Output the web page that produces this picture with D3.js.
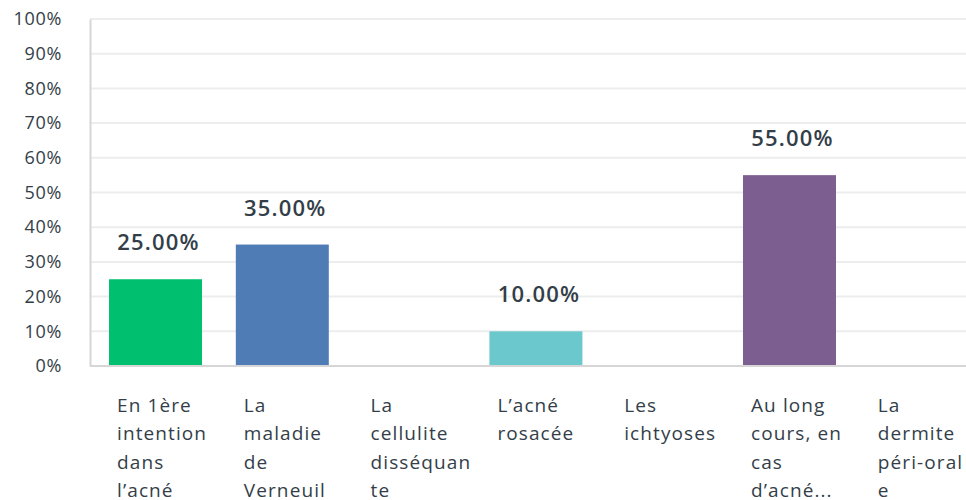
<!DOCTYPE html>
<html>
<head>
<meta charset="utf-8">
<script src="https://cdn.jsdelivr.net/npm/d3@7"></script>
<style>
  body { margin: 0; background: #fff; }
  text { font-family: "Open Sans", sans-serif; fill: #333e48; }
</style>
</head>
<body>
<div class="container"></div>
<script>
const width = 966;
const height = 500;

// category labels, already wrapped the way the picture shows them
const labelLines = [
    ['En 1ère', 'intention', 'dans', 'l’acné'],
    ['La', 'maladie', 'de', 'Verneuil'],
    ['La', 'cellulite', 'disséquan', 'te'],
    ['L’acné', 'rosacée'],
    ['Les', 'ichtyoses'],
    ['Au long', 'cours, en', 'cas', 'd’acné...'],
    ['La', 'dermite', 'péri-oral', 'e']
];
const values = [25, 35, 0, 10, 0, 55, 0];
const colors = ['#00bf6f', '#507cb6', '#f9be00', '#6bc8cd', '#ff8b4f', '#7d5e90', '#d25f90'];
const yTicks = [0, 10, 20, 30, 40, 50, 60, 70, 80, 90, 100];

const plotLeft = 90;
const plotTop = 19;
const plotBottom = 366;

const svg = d3.select('.container')
    .append('svg')
    .attr('width', width)
    .attr('height', height);

const xscale = d3.scaleBand()
    .domain(d3.range(values.length))
    .range([plotLeft, 981.8])
    .paddingInner(0.2666)
    .paddingOuter(0.15);
const yscale = d3.scaleLinear().domain([0, 100]).range([plotBottom, plotTop]);

// grid
svg.selectAll('.grid')
    .data(yTicks.filter(d => d > 0))
    .enter()
    .append('line')
    .attr('x1', plotLeft)
    .attr('x2', width)
    .attr('y1', d => yscale(d))
    .attr('y2', d => yscale(d))
    .attr('stroke', '#ededed')
    .attr('stroke-width', 2);

// y axis
const yAxis = svg.append('g')
    .attr('transform', `translate(${plotLeft}, 0)`)
    .call(d3.axisLeft(yscale).tickValues(yTicks).tickFormat(d => d + '%').tickSize(0).tickPadding(28));
yAxis.select('.domain').attr('stroke', '#d6d6d6').attr('stroke-width', 2);
yAxis.selectAll('text')
    .style('font-size', '18px')
    .style('letter-spacing', '0.7px')
    .attr('fill', '#333e48');

// bars
svg.selectAll('.bar')
    .data(values)
    .enter()
    .append('rect')
    .attr('class', 'bar')
    .attr('x', (d, i) => xscale(i))
    .attr('width', xscale.bandwidth())
    .attr('y', d => yscale(d))
    .attr('height', d => plotBottom - yscale(d))
    .attr('fill', (d, i) => colors[i]);

// baseline
svg.append('line')
    .attr('x1', plotLeft)
    .attr('x2', width)
    .attr('y1', plotBottom)
    .attr('y2', plotBottom)
    .attr('stroke', '#d6d6d6')
    .attr('stroke-width', 2);

// value labels
svg.selectAll('.value')
    .data(values.map((v, i) => ({ v, i })).filter(d => d.v > 0))
    .enter()
    .append('text')
    .attr('class', 'value')
    .attr('x', d => xscale(d.i) + xscale.bandwidth() / 2 + 3)
    .attr('y', d => yscale(d.v) - 29)
    .attr('text-anchor', 'middle')
    .style('font-size', '22px')
    .style('font-weight', '600')
    .style('letter-spacing', '1.2px')
    .text(d => d.v.toFixed(2) + '%');

// category labels
const cats = svg.selectAll('.cat')
    .data(labelLines)
    .enter()
    .append('text')
    .attr('class', 'cat')
    .attr('x', (d, i) => xscale(i) + 8)
    .attr('y', 411.5)
    .style('font-size', '19px')
    .style('letter-spacing', '1.1px');

cats.selectAll('tspan')
    .data(d => d)
    .enter()
    .append('tspan')
    .attr('x', function () { return this.parentNode.getAttribute('x'); })
    .attr('dy', (d, i) => i === 0 ? 0 : 28.6)
    .text(d => d);
</script>
</body>
</html>
